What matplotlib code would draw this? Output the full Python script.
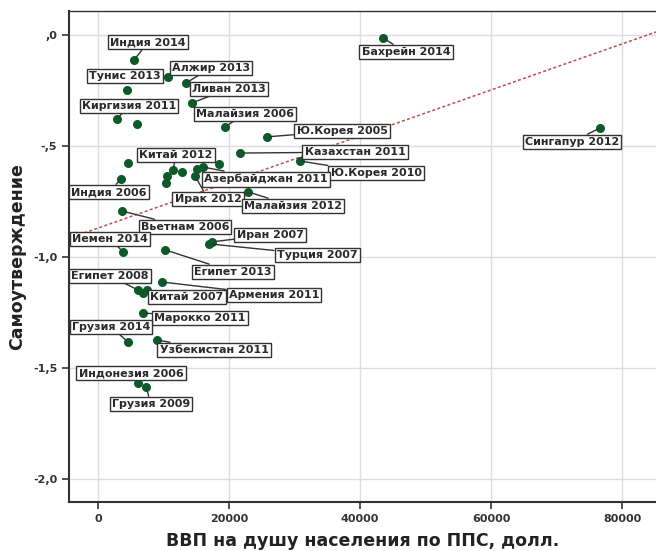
import numpy as np
import matplotlib
matplotlib.use("Agg")
import matplotlib.pyplot as plt
from matplotlib.ticker import FuncFormatter

# ВВП на душу населения по ППС (долл.) и индекс самоутверждения
gdp = [5500, 10690, 13440, 4430, 14350, 2900, 5950, 19390, 25800, 21680,
       30840, 4580, 11450, 12820, 15110, 16030, 18470, 10530, 3510, 10380,
       14810, 22900, 3660, 16950, 17400, 3820, 10230, 9770, 6110, 6870,
       7480, 6870, 4580, 9010, 6110, 7330, 43510, 76640]
self_exp = [-0.113, -0.189, -0.216, -0.248, -0.306, -0.378, -0.401, -0.414, -0.459, -0.532,
            -0.568, -0.577, -0.608, -0.617, -0.604, -0.595, -0.581, -0.635, -0.649, -0.667,
            -0.635, -0.707, -0.793, -0.941, -0.932, -0.977, -0.968, -1.113, -1.149, -1.162,
            -1.149, -1.252, -1.383, -1.374, -1.568, -1.586, -0.014, -0.419]

# подписи: индекс точки -> текст
labels = {0: "Индия 2014", 2: "Алжир 2013", 1: "Тунис 2013", 4: "Ливан 2013",
          5: "Киргизия 2011", 7: "Малайзия 2006", 8: "Ю.Корея 2005",
          9: "Казахстан 2011", 10: "Ю.Корея 2010", 12: "Китай 2012",
          15: "Азербайджан 2011", 18: "Индия 2006", 20: "Ирак 2012",
          21: "Малайзия 2012", 22: "Вьетнам 2006", 24: "Иран 2007",
          23: "Турция 2007", 25: "Йемен 2014", 26: "Египет 2013",
          28: "Египет 2008", 30: "Китай 2007", 27: "Армения 2011",
          31: "Марокко 2011", 32: "Грузия 2014", 33: "Узбекистан 2011",
          34: "Индонезия 2006", 35: "Грузия 2009", 36: "Бахрейн 2014",
          37: "Сингапур 2012"}

# смещения подписей от точки, пиксели
offsets = {0: (14, 18), 2: (25, 15), 1: (-43, 1), 4: (37, 14), 5: (12, 13),
           7: (20, 13), 8: (75, 6), 9: (115, 1), 10: (76, -12), 12: (3, 15),
           15: (63, -12), 18: (-12, -13), 20: (13, -23), 21: (45, -14),
           22: (63, -16), 24: (58, 7), 23: (108, -11), 25: (-13, 13),
           26: (68, -22), 28: (-28, 14), 30: (40, -7), 27: (112, -13),
           31: (57, -5), 32: (-17, 15), 33: (57, -10), 34: (-7, 10),
           35: (5, -17), 36: (23, -14), 37: (-28, -14)}

# линия тренда
trend_b = -0.870
trend_k = 1.037e-5

fig = plt.figure(figsize=(6.56, 5.51), dpi=100)
ax = fig.add_axes([69 / 656, (551 - 502) / 551, 1 - 69 / 656, (502 - 11) / 551])

ax.set_xlim(-4430, 85190)
ax.set_ylim(-2.104, 0.108)
ax.set_xticks([0, 20000, 40000, 60000, 80000])
ax.set_yticks([0, -0.5, -1.0, -1.5, -2.0])

def spss_fmt(v, pos):
    s = f"{v:.1f}".replace(".", ",")
    if s.startswith("-0,"):
        s = "-" + s[2:]
    elif s.startswith("0,"):
        s = s[1:]
    return s

ax.yaxis.set_major_formatter(FuncFormatter(spss_fmt))
ax.grid(True, color="#dddddd", lw=1)
ax.set_axisbelow(True)
ax.spines["right"].set_visible(False)
for sp in ["left", "bottom", "top"]:
    ax.spines[sp].set_color("#333333")
ax.spines["left"].set_linewidth(1.5)
ax.spines["bottom"].set_linewidth(1.5)
ax.spines["top"].set_linewidth(1.0)
ax.tick_params(direction="out", length=5, width=1.2, color="#333333",
               labelsize=8, labelcolor="#333333")
for t in ax.get_xticklabels() + ax.get_yticklabels():
    t.set_fontweight("bold")

ax.axline((0, trend_b), slope=trend_k, color="#c0504d", lw=1.1,
          ls=(0, (2, 1.5)), zorder=2)

ax.scatter(gdp, self_exp, s=30, color="#0b5a28", zorder=3)

z = 4
for i, txt in labels.items():
    ax.annotate(txt, (gdp[i], self_exp[i]), xytext=offsets[i],
                textcoords="offset pixels", ha="center", va="center",
                fontsize=8, fontweight="bold", color="#2a2a2a", zorder=z,
                bbox=dict(boxstyle="square,pad=0.2", fc="white", ec="#333333", lw=1),
                arrowprops=dict(arrowstyle="-", color="#333333", lw=1,
                                shrinkA=0, shrinkB=2))
    z += 1

ax.set_xlabel("ВВП на душу населения по ППС, долл.", fontsize=12.5,
              fontweight="bold", color="#222222", labelpad=6)
ax.set_ylabel("Самоутверждение", fontsize=12.5, fontweight="bold",
              color="#222222", labelpad=5)

fig.savefig("out.png", dpi=100)
